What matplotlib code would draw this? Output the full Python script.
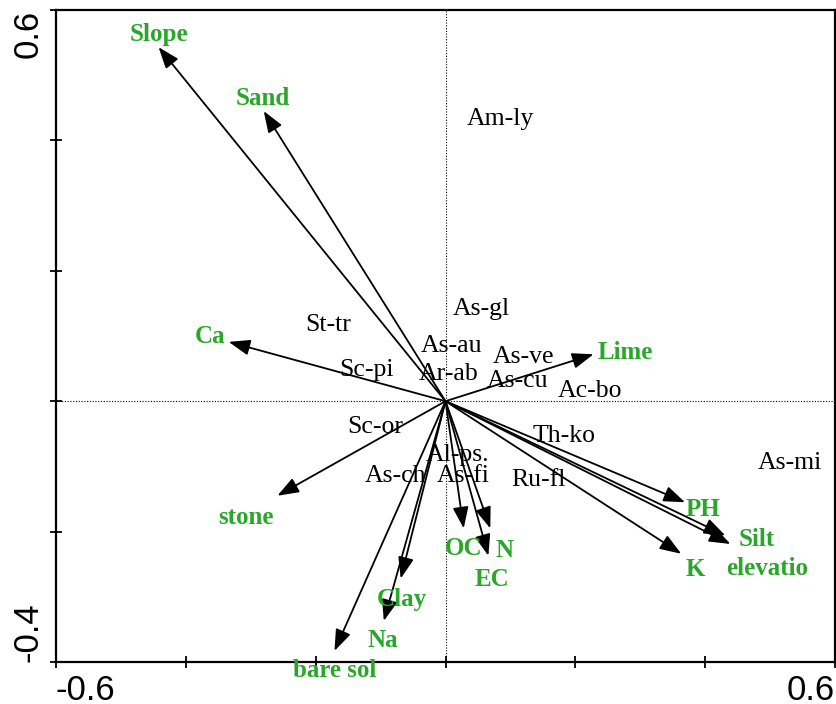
import matplotlib
matplotlib.use("Agg")
import matplotlib.pyplot as plt

# Environmental variables (arrow tips) and label positions
env_names = ["Slope", "Sand", "Ca", "Lime", "stone", "bare sol", "Na", "Clay",
             "OC", "N", "EC", "PH", "Silt", "elevatio", "K"]
env_x = [-0.442, -0.280, -0.334, 0.228, -0.259, -0.171, -0.095, -0.069,
         0.028, 0.069, 0.066, 0.369, 0.431, 0.439, 0.363]
env_y = [0.543, 0.445, 0.091, 0.072, -0.145, -0.383, -0.337, -0.272,
         -0.195, -0.195, -0.237, -0.155, -0.206, -0.219, -0.234]
env_lx = [-0.442, -0.282, -0.362, 0.277, -0.308, -0.171, -0.097, -0.068,
          0.028, 0.091, 0.071, 0.397, 0.479, 0.495, 0.385]
env_ly = [0.566, 0.468, 0.103, 0.079, -0.174, -0.409, -0.363, -0.300,
          -0.222, -0.225, -0.269, -0.162, -0.209, -0.252, -0.255]

# Species scores
sp_names = ["Am-ly", "As-gl", "St-tr", "As-au", "As-ve", "Ar-ab", "As-cu", "Sc-pi",
            "Ac-bo", "Sc-or", "Th-ko", "Al-ps.", "As-ch", "As-fi", "Ru-fl", "As-mi"]
sp_x = [0.085, 0.055, -0.180, 0.009, 0.120, 0.005, 0.111, -0.122,
        0.223, -0.108, 0.182, 0.019, -0.077, 0.028, 0.143, 0.531]
sp_y = [0.437, 0.145, 0.120, 0.088, 0.072, 0.045, 0.035, 0.051,
        0.020, -0.035, -0.049, -0.079, -0.111, -0.111, -0.117, -0.091]

x_ticks = [-0.6, -0.4, -0.2, 0.0, 0.2, 0.4, 0.6]
y_ticks = [-0.4, -0.2, 0.0, 0.2, 0.4, 0.6]

green = "#2aa62a"

fig = plt.figure(figsize=(8.36, 7.04), dpi=100)
ax = fig.add_axes([56 / 836, 42 / 704, 779 / 836, 652 / 704])
ax.set_xlim(-0.6, 0.6)
ax.set_ylim(-0.4, 0.6)

ax.axvline(0, color="black", lw=0.8, ls=(0, (1, 1.5)), zorder=1)
ax.axhline(0, color="black", lw=0.8, ls=(0, (1, 1.5)), zorder=1)

for x, y in zip(env_x, env_y):
    ax.annotate("", xy=(x, y), xytext=(0, 0),
                arrowprops=dict(arrowstyle="-|>,head_length=0.65,head_width=0.24",
                                color="black", lw=1.3, mutation_scale=20,
                                shrinkA=0, shrinkB=0), zorder=3)

for n, x, y in zip(env_names, env_lx, env_ly):
    ax.text(x, y, n, color=green, fontsize=18, fontweight="bold",
            family=["Liberation Serif", "DejaVu Serif"], ha="center",
            va="center_baseline", clip_on=False, zorder=4)

for n, x, y in zip(sp_names, sp_x, sp_y):
    ax.text(x, y, n, color="black", fontsize=18.5,
            family=["Liberation Serif", "DejaVu Serif"], ha="center",
            va="center_baseline", zorder=2)

for s in ax.spines.values():
    s.set_linewidth(1.6)

ax.set_xticks(x_ticks)
ax.set_yticks(y_ticks)
ax.set_xticklabels([f"{v:.1f}" if i in (0, len(x_ticks) - 1) else "" for i, v in enumerate(x_ticks)])
ax.set_yticklabels([f"{v:.1f}" if i in (0, len(y_ticks) - 1) else "" for i, v in enumerate(y_ticks)])
ax.tick_params(direction="inout", length=9, width=1.3, labelsize=25, pad=4)
for lab in ax.get_xticklabels() + ax.get_yticklabels():
    lab.set_family(["Liberation Sans", "DejaVu Sans"])
xl = ax.get_xticklabels()
xl[0].set_ha("left")
xl[-1].set_ha("right")
yl = ax.get_yticklabels()
for lab in yl:
    lab.set_rotation(90)
yl[0].set_va("bottom")
yl[-1].set_va("top")

fig.savefig("out.png", dpi=100)
